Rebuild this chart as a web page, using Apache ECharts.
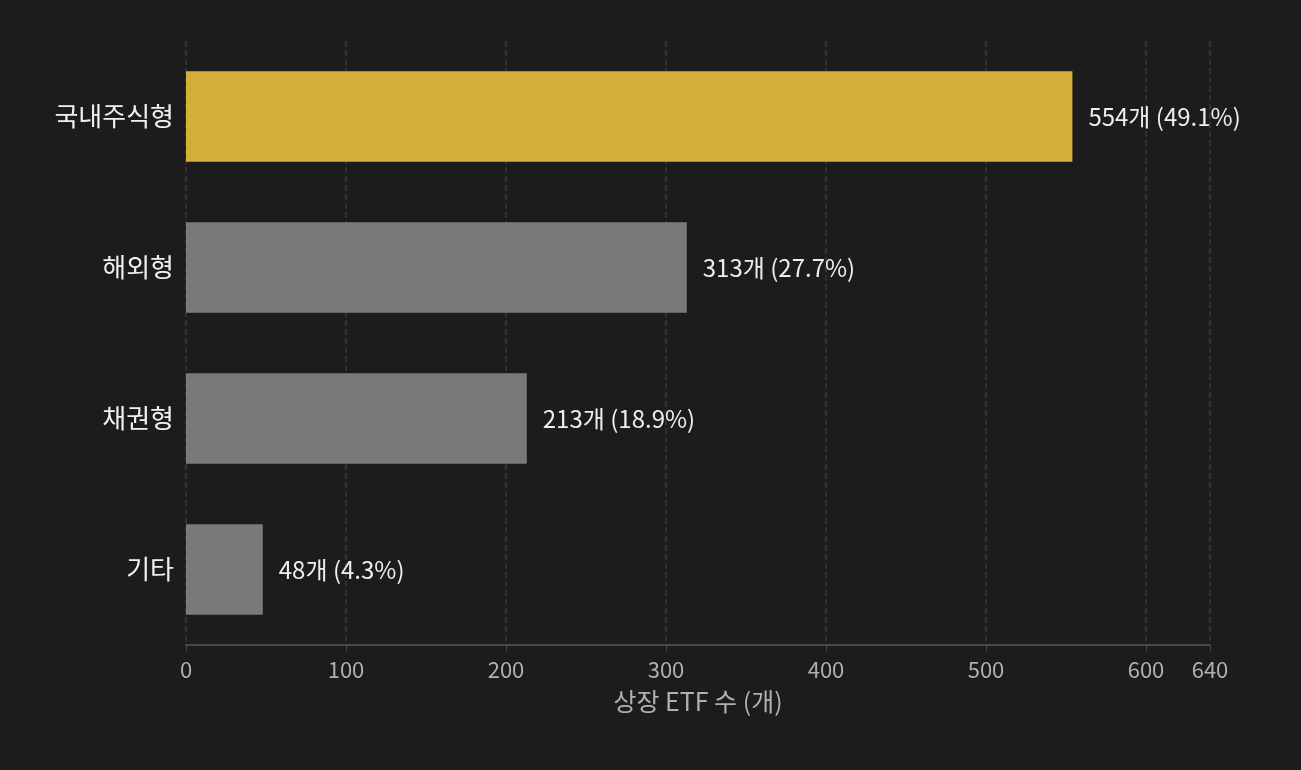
<!DOCTYPE html>
<html><head><meta charset="utf-8">
<script src="https://cdn.jsdelivr.net/npm/echarts@6/dist/echarts.min.js"></script>
<style>html,body{margin:0;background:#1c1c1c}#c{width:1301px;height:770px}</style>
</head><body><div id="c"></div>
<script>
// 데이터
const categories = ['국내주식형', '해외형', '채권형', '기타'];
const counts = [554, 313, 213, 48];
const shares = [49.1, 27.7, 18.9, 4.3];
const colors = ['#d4b038', '#7a7a7a', '#7a7a7a', '#7a7a7a'];

const font = '"Noto Sans CJK KR", "Noto Sans", sans-serif';
const chart = echarts.init(document.getElementById('c'));

chart.setOption({
  backgroundColor: '#1c1c1c',
  animation: false,
  grid: { left: 186, right: 91, top: 41, bottom: 125 },
  xAxis: {
    type: 'value', min: 0, max: 640, interval: 100,
    name: '상장 ETF 수 (개)', nameLocation: 'middle', nameGap: 44,
    nameTextStyle: { color: '#b0b0b0', fontSize: 25, fontFamily: font },
    axisLine: { show: true, lineStyle: { color: '#4a4a4a', width: 2 } },
    axisTick: { show: true, length: 6, lineStyle: { color: '#4a4a4a' } },
    axisLabel: { color: '#b0b0b0', fontSize: 22, fontFamily: font, margin: 14 },
    splitLine: { show: true, lineStyle: { color: '#3a3a3a', type: 'dashed', width: 1.5 } }
  },
  yAxis: {
    type: 'category', data: categories, inverse: true,
    axisLine: { show: false }, axisTick: { show: false },
    axisLabel: { color: '#f0f0f0', fontSize: 26, fontFamily: font, margin: 12 }
  },
  series: [{
    type: 'bar', barWidth: '60%',
    data: counts.map((v, i) => ({ value: v, itemStyle: { color: colors[i] } })),
    label: {
      show: true, position: 'right', distance: 16,
      color: '#eeeeee', fontSize: 24, fontFamily: font,
      formatter: p => `${counts[p.dataIndex]}개 (${shares[p.dataIndex]}%)`
    }
  }]
});
</script></body></html>
